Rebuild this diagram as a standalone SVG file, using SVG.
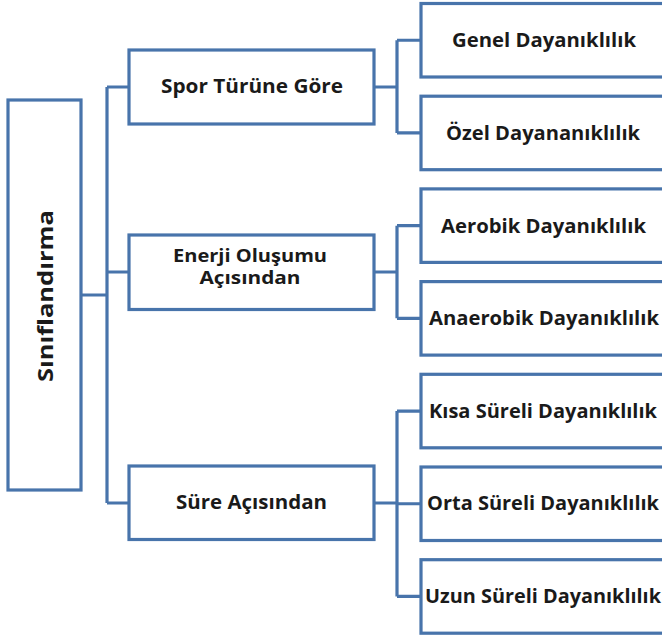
<svg xmlns="http://www.w3.org/2000/svg" width="662" height="640" viewBox="0 0 662 640">
  <style>
    .box { fill: #ffffff; stroke: #4874ab; stroke-width: 3.2; }
    .conn { fill: none; stroke: #4874ab; stroke-width: 3.2; stroke-linejoin: miter; }
    .t { font-family: "Open Sans", "Liberation Sans", sans-serif; font-weight: bold; font-size: 19px; fill: #1a1a1a; text-anchor: middle; }
    .root { font-size: 21px; }
    .two { font-size: 17.5px; }
  </style>
  <rect width="662" height="640" fill="#ffffff"/>
  <g id="connectors">
    <path class="conn" d="M81,295 H107 M107,87 V503 M107,87 H129 M107,272 H129 M107,503 H129"/>
    <path class="conn" d="M374,87 H397 M397,40.25 V132.95 M397,40.25 H421 M397,132.95 H421"/>
    <path class="conn" d="M374,272 H397 M397,225.65 V318.35 M397,225.65 H421 M397,318.35 H421"/>
    <path class="conn" d="M374,503 H397 M397,411.05 V596.45 M397,411.05 H421 M397,503.75 H421 M397,596.45 H421"/>
  </g>
  <g id="root">
    <rect class="box" x="8" y="100" width="73" height="390"/>
    <text class="t root" transform="translate(53,296) rotate(-90)" x="0" y="0" textLength="172" lengthAdjust="spacingAndGlyphs">Sınıflandırma</text>
  </g>
  <g id="spor">
    <rect class="box" x="129" y="50" width="245" height="74"/>
    <text class="t" x="252" y="93" textLength="182" lengthAdjust="spacingAndGlyphs">Spor Türüne Göre</text>
  </g>
  <g id="enerji">
    <rect class="box" x="129" y="235" width="245" height="74.5"/>
    <text class="t two" x="250" y="262" textLength="154" lengthAdjust="spacingAndGlyphs">Enerji Oluşumu</text>
    <text class="t two" x="250" y="284" textLength="101" lengthAdjust="spacingAndGlyphs">Açısından</text>
  </g>
  <g id="sure">
    <rect class="box" x="129" y="466" width="245" height="73.5"/>
    <text class="t" x="251.5" y="509" textLength="151" lengthAdjust="spacingAndGlyphs">Süre Açısından</text>
  </g>
  <g id="genel">
    <rect class="box" x="421" y="3.5" width="244" height="73.5"/>
    <text class="t" x="544" y="47" textLength="184" lengthAdjust="spacingAndGlyphs">Genel Dayanıklılık</text>
  </g>
  <g id="ozel">
    <rect class="box" x="421" y="96.2" width="244" height="73.5"/>
    <text class="t" x="543" y="140" textLength="194" lengthAdjust="spacingAndGlyphs">Özel Dayananıklılık</text>
  </g>
  <g id="aerobik">
    <rect class="box" x="421" y="188.9" width="244" height="73.5"/>
    <text class="t" x="543.5" y="232.5" textLength="205" lengthAdjust="spacingAndGlyphs">Aerobik Dayanıklılık</text>
  </g>
  <g id="anaerobik">
    <rect class="box" x="421" y="281.6" width="244" height="73.5"/>
    <text class="t" x="544" y="325" textLength="230" lengthAdjust="spacingAndGlyphs">Anaerobik Dayanıklılık</text>
  </g>
  <g id="kisa">
    <rect class="box" x="421" y="374.3" width="244" height="73.5"/>
    <text class="t" x="543" y="417.5" textLength="228" lengthAdjust="spacingAndGlyphs">Kısa Süreli Dayanıklılık</text>
  </g>
  <g id="orta">
    <rect class="box" x="421" y="467" width="244" height="73.5"/>
    <text class="t" x="543" y="510" textLength="232" lengthAdjust="spacingAndGlyphs">Orta Süreli Dayanıklılık</text>
  </g>
  <g id="uzun">
    <rect class="box" x="421" y="559.7" width="244" height="73.5"/>
    <text class="t" x="543" y="603" textLength="236" lengthAdjust="spacingAndGlyphs">Uzun Süreli Dayanıklılık</text>
  </g>
</svg>
